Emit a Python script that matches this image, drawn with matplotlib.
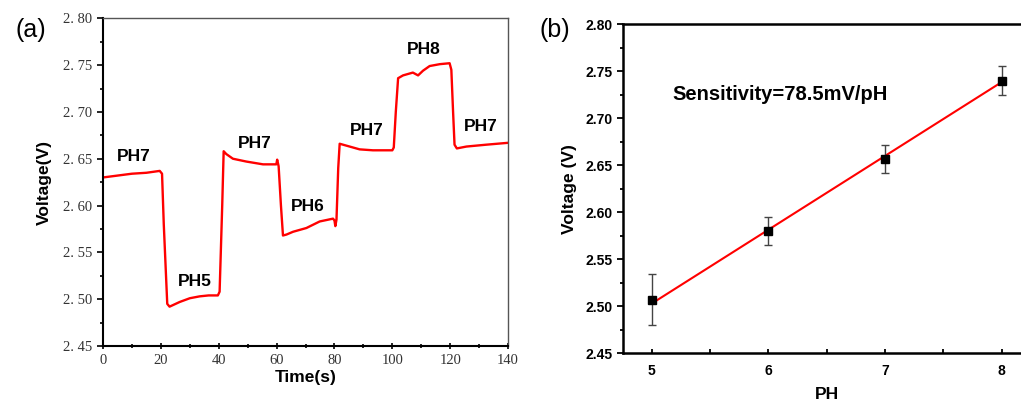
import numpy as np
import matplotlib.pyplot as plt
from matplotlib.ticker import MultipleLocator, FuncFormatter

# (a) voltage trace
time_s = [0, 5, 10, 15, 19.6, 20.4, 21.0, 22.2, 23.0, 26.5, 30, 33.4, 36.5, 39.7,
          40.3, 41.2, 41.7, 42.6, 44.9, 49.5, 55.3, 59.9, 60.2, 60.7, 61.5, 62.2,
          63.4, 65.7, 70.3, 74.9, 79.5, 80.0, 80.3, 80.7, 81.3, 81.8, 84.1, 88.7,
          93.3, 100.0, 100.5, 101.2, 102.0, 103.7, 107.1, 108.9, 110.6, 112.9,
          116.4, 119.8, 120.4, 121.0, 121.5, 122.3, 125.6, 132.5, 140]
voltage = [2.630, 2.632, 2.634, 2.635, 2.637, 2.634, 2.580, 2.495, 2.492, 2.497,
           2.501, 2.503, 2.504, 2.504, 2.508, 2.600, 2.658, 2.655, 2.650, 2.647,
           2.644, 2.644, 2.649, 2.642, 2.600, 2.568, 2.569, 2.572, 2.576, 2.583,
           2.586, 2.584, 2.578, 2.585, 2.640, 2.666, 2.664, 2.660, 2.659, 2.659,
           2.662, 2.700, 2.736, 2.739, 2.742, 2.739, 2.744, 2.749, 2.751, 2.752,
           2.745, 2.700, 2.665, 2.661, 2.663, 2.665, 2.667]

label_text = ['PH7', 'PH5', 'PH7', 'PH6', 'PH7', 'PH8', 'PH7']
label_t = [10.7, 31.7, 52.4, 70.8, 91.0, 110.9, 130.5]
label_v = [2.652, 2.519, 2.666, 2.599, 2.680, 2.767, 2.684]

# (b) calibration points
ph = [5, 6, 7, 8]
ph_voltage = [2.507, 2.580, 2.657, 2.740]
ph_err = [0.027, 0.015, 0.015, 0.0155]
fit_x = [5, 8]
fit_y = [2.503, 2.7385]

fig = plt.figure(figsize=(10.21, 4.01), dpi=100)

# ---- panel (a)
ax1 = fig.add_axes([0.1009, 0.1372, 0.3967, 0.8172])
ax1.plot(time_s, voltage, color='red', lw=1.7)
for txt, t, v in zip(label_text, label_t, label_v):
    ax1.text(t, v, txt, ha='center', va='center', fontsize=12.5,
             fontweight='bold', family='Liberation Sans')
ax1.set_xlim(0, 140)
ax1.set_ylim(2.45, 2.80)
ax1.xaxis.set_major_locator(MultipleLocator(20))
ax1.xaxis.set_minor_locator(MultipleLocator(10))
ax1.yaxis.set_major_locator(MultipleLocator(0.05))
ax1.yaxis.set_minor_locator(MultipleLocator(0.025))
ax1.yaxis.set_major_formatter(FuncFormatter(lambda v, p: f'{v:.2f}'.replace('.', '. ')))
ax1.tick_params(axis='x', which='major', direction='inout', length=5, width=1.2)
ax1.tick_params(axis='x', which='minor', direction='inout', length=3, width=1.2)
ax1.tick_params(axis='y', which='major', direction='out', length=4, width=1.2)
ax1.tick_params(axis='y', which='minor', direction='out', length=2.5, width=1.2)
for lab in ax1.get_xticklabels() + ax1.get_yticklabels():
    lab.set_family('Liberation Serif')
    lab.set_fontsize(10.5)
    lab.set_color('#333333')
for s in ['top', 'right']:
    ax1.spines[s].set_color('#555555')
    ax1.spines[s].set_linewidth(1.0)
for s in ['left', 'bottom']:
    ax1.spines[s].set_linewidth(1.5)
ax1.set_xlabel('Time(s)', fontsize=12.5, fontweight='bold', family='Liberation Sans',
               labelpad=2)
ax1.set_ylabel('Voltage(V)', fontsize=12.5, fontweight='bold', family='Liberation Sans',
               labelpad=8)
fig.text(0.030, 0.925, '(a)', fontsize=18, family='Liberation Sans', ha='center',
         va='center')

# ---- panel (b)
ax2 = fig.add_axes([0.6099, 0.1190, 0.3997, 0.8204])
ax2.plot(fit_x, fit_y, color='red', lw=1.5, zorder=2)
ax2.errorbar(ph, ph_voltage, yerr=ph_err, fmt='s', color='black', ms=6,
             ecolor='#444444', elinewidth=1.0, capsize=3, capthick=1.0, zorder=3)
ax2.text(6.1, 2.725, 'Sensitivity=78.5mV/pH', ha='center', va='center',
         fontsize=14.5, fontweight='bold', family='Liberation Sans')
ax2.set_xlim(4.75, 8.25)
ax2.set_ylim(2.45, 2.80)
ax2.xaxis.set_major_locator(MultipleLocator(1))
ax2.xaxis.set_minor_locator(MultipleLocator(0.5))
ax2.yaxis.set_major_locator(MultipleLocator(0.05))
ax2.yaxis.set_minor_locator(MultipleLocator(0.025))
ax2.yaxis.set_major_formatter(FuncFormatter(lambda v, p: f'{v:.2f}'))
ax2.tick_params(axis='x', which='both', direction='in', length=3, width=1.3, pad=8)
ax2.tick_params(axis='y', which='major', direction='out', length=4, width=1.3)
ax2.tick_params(axis='y', which='minor', direction='out', length=2.5, width=1.3)
for lab in ax2.get_xticklabels() + ax2.get_yticklabels():
    lab.set_family('Liberation Sans')
    lab.set_fontweight('bold')
    lab.set_fontsize(10)
for s in ax2.spines.values():
    s.set_linewidth(1.8)
ax2.set_xlabel('PH', fontsize=12.5, fontweight='bold', family='Liberation Sans',
               labelpad=6)
ax2.set_ylabel('Voltage (V)', fontsize=12.5, fontweight='bold', family='Liberation Sans',
               labelpad=6)
fig.text(0.543, 0.925, '(b)', fontsize=18, family='Liberation Sans', ha='center',
         va='center')

fig.savefig('out.png', dpi=100)
